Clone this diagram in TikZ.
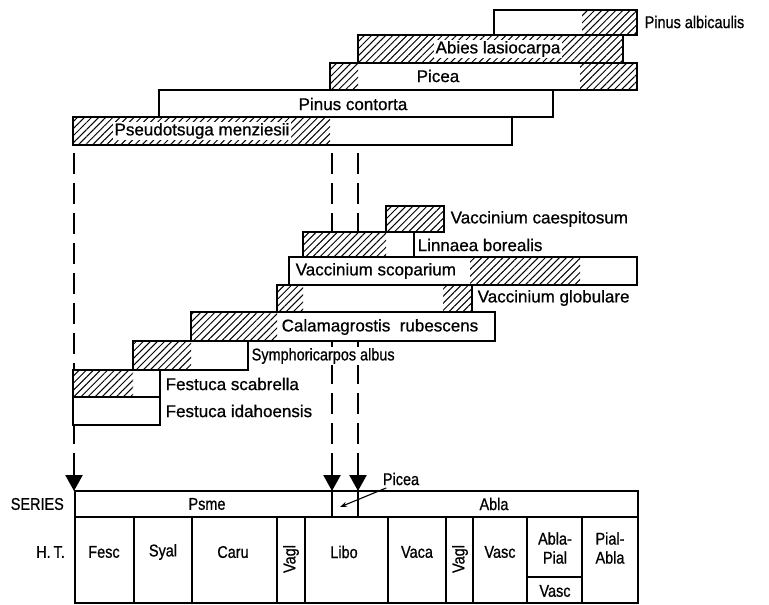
\documentclass[tikz,border=0pt]{standalone}
\usepackage{fontspec}
\setmainfont{Liberation Sans}[FakeBold=0.8]
\newfontfamily\tightfont{Liberation Sans}[FakeStretch=0.85,FakeBold=0.8]
\usetikzlibrary{patterns.meta,arrows.meta,calc}
\begin{document}
\begin{tikzpicture}[x=1pt,y=-1pt,
  every node/.style={font=\fontsize{17}{19}\selectfont, inner sep=1pt},
  tight/.style={font=\fontsize{17}{19}\selectfont\tightfont},
  barline/.style={draw=black, line width=1.8pt},
  barfill/.style={fill=white},
  hatch/.style={pattern={Lines[angle=45,distance=5pt,line width=1pt]}},
  lbl/.style={fill=white, inner sep=1.5pt},
  leftlbl/.style={lbl, anchor=west},
  conn/.style={line width=2.4pt, dash pattern=on 21pt off 9pt, dash phase=22pt},
  tipline/.style={line width=2.4pt, -{Triangle[length=16pt,width=17pt]}},
  grid/.style={line width=1.8pt},
  cell/.style={tight, inner sep=0pt, align=center},
]
\useasboundingbox (0,0) rectangle (769,605);

% ---- connector end points ----
\coordinate (psmeTop)  at (74,145);
\coordinate (picTopA)  at (332,145);
\coordinate (picTopB)  at (358,145);
\coordinate (psmeEnd)  at (74,491);
\coordinate (picEndA)  at (332,491);
\coordinate (picEndB)  at (358,491);

% ---- dashed connectors (drawn first, bars cover them) ----
\draw[conn] (psmeTop) -- ($(psmeEnd)+(0,-28)$);
\draw[conn] (picTopA) -- ($(picEndA)+(0,-28)$);
\draw[conn] (picTopB) -- ($(picEndB)+(0,-28)$);
\draw[tipline] ($(psmeEnd)+(0,-36)$) -- (psmeEnd);
\draw[tipline] ($(picEndA)+(0,-36)$) -- (picEndA);
\draw[tipline] ($(picEndB)+(0,-36)$) -- (picEndB);

% ---- white backgrounds of the bars ----
\foreach \a/\b/\c/\d in {494/10/637/35, 358/35/623/63, 330/63/637/90, 159/90/553/117, 73/117/512/145,
  386/206/444/232, 303/232/414/257, 289/257/637/285, 277/285/472/312, 191/312/495/341,
  133/341/248/370, 73/370/160/397, 73/397/160/425}
  \fill[barfill] (\a,\b) rectangle (\c,\d);

% ---- hatched parts ----
\fill[hatch] (582,10) rectangle (637,35);   % Pinus albicaulis
\fill[hatch] (358,35) rectangle (623,63);   % Abies lasiocarpa
\fill[hatch] (330,63) rectangle (358,90);   % Picea
\fill[hatch] (580,63) rectangle (637,90);
\fill[hatch] (73,117) rectangle (330,145);  % Pseudotsuga menziesii
\fill[hatch] (386,206) rectangle (444,232); % Vaccinium caespitosum
\fill[hatch] (303,232) rectangle (386,257); % Linnaea borealis
\fill[hatch] (470,257) rectangle (580,285); % Vaccinium scoparium
\fill[hatch] (277,285) rectangle (303,312); % Vaccinium globulare
\fill[hatch] (443,285) rectangle (472,312);
\fill[hatch] (191,312) rectangle (277,341); % Calamagrostis rubescens
\fill[hatch] (133,341) rectangle (191,370); % Symphoricarpos albus
\fill[hatch] (73,370) rectangle (133,397);  % Festuca scabrella

% ---- species labels ----
\node[leftlbl, tight] (pial) at (643,22) {Pinus albicaulis};
\node[lbl] (abla) at (498,49) {Abies lasiocarpa};
\node[lbl] (pien) at (438,76) {Picea};
\node[lbl] (pico) at (353,104) {Pinus contorta};
\node[lbl] (psme) at (202,131) {Pseudotsuga menziesii};
\node[leftlbl] (vaca) at (449,219) {Vaccinium caespitosum};
\node[leftlbl] (libo) at (416,245) {Linnaea borealis};
\node[leftlbl] (vasc) at (294,271) {Vaccinium scoparium};
\node[leftlbl] (vagl) at (476,298) {Vaccinium globulare};
\node[leftlbl] (caru) at (280,327) {Calamagrostis\ \ rubescens};
\node[leftlbl, tight] (syal) at (250,356) {Symphoricarpos albus};
\node[leftlbl] (fesc) at (164,384) {Festuca scabrella};
\node[leftlbl] (feid) at (164,411) {Festuca idahoensis};

% ---- bar outlines ----
\foreach \a/\b/\c/\d in {494/10/637/35, 358/35/623/63, 330/63/637/90, 159/90/553/117, 73/117/512/145,
  386/206/444/232, 303/232/414/257, 289/257/637/285, 277/285/472/312, 191/312/495/341,
  133/341/248/370, 73/370/160/397, 73/397/160/425}
  \draw[barline] (\a,\b) rectangle (\c,\d);

% ---- series / habitat type table ----
\draw[grid] (75,491) rectangle (638,603);
\draw[grid] (75,517) -- (638,517);
\draw[grid] (picEndA) -- (332,517);
\draw[grid] (picEndB) -- (358,517);
\foreach \x in {134,192,277,305,388,446,473,527,582}
  \draw[grid] (\x,517) -- (\x,603);
\draw[grid] (527,577) -- (582,577);

\node[tight, anchor=east] (series) at (65,504) {SERIES};
\node[tight, anchor=east] (ht) at (66,552) {H.\,T.};
\node[cell] (psmeS) at (207,504) {Psme};
\node[cell] (ablaS) at (494,504) {Abla};
\node[tight, fill=white, inner sep=0.5pt] (picLbl) at (401,479) {Picea};
\coordinate (picGap) at (340,507);
\draw[line width=1.1pt, -{Stealth[length=7pt,width=5pt]}] ($(picLbl.south west)+(4,2)$) -- (picGap);

\node[cell] (fescH) at (104,552) {Fesc};
\node[cell] (syalH) at (163,552) {Syal};
\node[cell] (caruH) at (233,552) {Caru};
\node[cell, rotate=90] (vaglH1) at (291,559) {Vagl};
\node[cell] (liboH) at (344,552) {Libo};
\node[cell] (vacaH) at (417,552) {Vaca};
\node[cell, rotate=90] (vaglH2) at (460,559) {Vagl};
\node[cell] (vascH) at (500,552) {Vasc};
\node[cell] (ablapial) at (555,548) {Abla-\\Pial};
\node[cell] (vascH2) at (555,591) {Vasc};
\node[cell] (pialabla) at (610,548) {Pial-\\Abla};
\end{tikzpicture}
\end{document}
